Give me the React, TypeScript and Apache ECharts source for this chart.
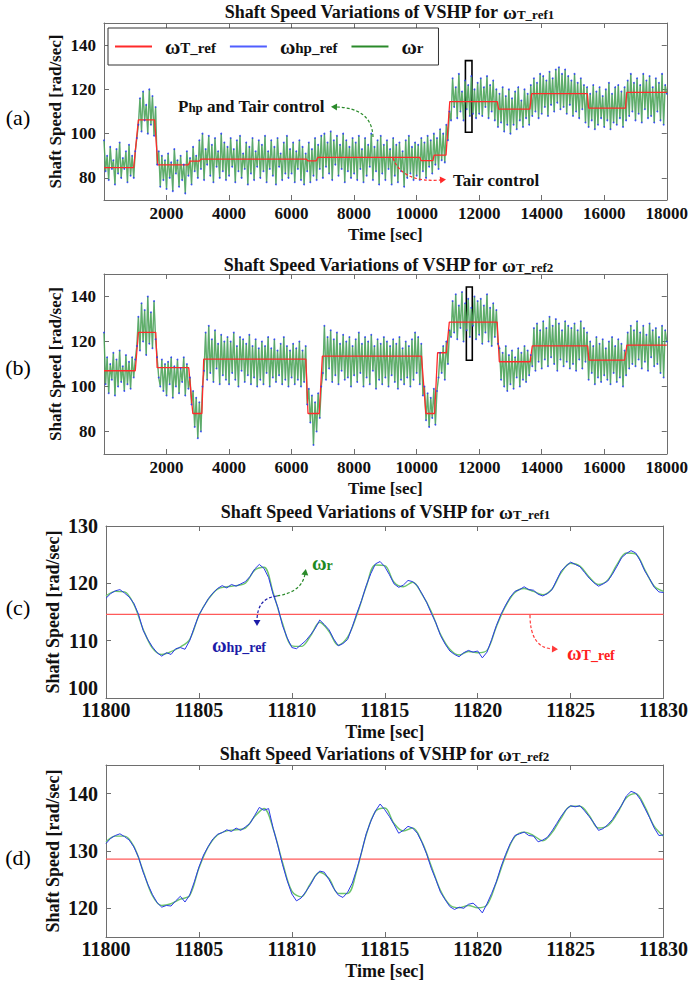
import React, { useEffect, useRef } from "react";
import * as echarts from "echarts";

// ---------------- data ----------------
const LONG_T0 = 0;
const LONG_DT = 50;
const SPEED_A = [
  97, 83, 90, 79, 94, 84, 88, 77, 93, 82, 96, 80, 89, 84, 92, 78, 95, 81, 90, 80,
  92, 98, 104, 116, 101, 119, 106, 113, 100, 120, 104, 117, 99, 112, 86, 92, 76, 90, 79, 88,
  75, 91, 80, 87, 74, 93, 82, 88, 76, 90, 79, 86, 73, 92, 81, 89, 77, 94, 83, 90,
  80, 97, 84, 100, 79, 93, 86, 99, 81, 95, 78, 98, 85, 92, 80, 100, 83, 96, 79, 94,
  81, 98, 85, 93, 78, 97, 83, 99, 80, 91, 84, 96, 77, 94, 82, 98, 79, 92, 85, 97,
  80, 95, 83, 99, 78, 92, 84, 97, 81, 94, 77, 98, 85, 91, 79, 96, 82, 99, 80, 93,
  82, 96, 78, 92, 84, 97, 79, 94, 77, 91, 83, 96, 78, 93, 81, 98, 79, 95, 84, 99,
  80, 100, 85, 96, 82, 101, 79, 97, 86, 99, 81, 95, 84, 100, 78, 97, 83, 94, 80, 98,
  82, 96, 79, 99, 84, 93, 78, 98, 81, 95, 85, 100, 79, 94, 83, 97, 77, 99, 82, 95,
  79, 97, 84, 93, 77, 98, 81, 95, 78, 96, 83, 92, 76, 97, 80, 99, 82, 94, 79, 96,
  81, 95, 79, 98, 83, 96, 80, 99, 85, 97, 82, 100, 86, 98, 84, 102, 88, 100, 87, 104,
  97, 110, 106, 125, 112, 121, 107, 127, 110, 119, 106, 124, 111, 122, 108, 126, 109, 120, 107, 123,
  109, 125, 108, 121, 112, 126, 107, 122, 110, 124, 106, 120, 103, 118, 105, 121, 101, 117, 104, 120,
  100, 116, 104, 119, 102, 121, 106, 115, 103, 120, 107, 118, 104, 122, 108, 125, 110, 123, 107, 127,
  109, 126, 112, 124, 108, 128, 113, 125, 110, 129, 114, 130, 111, 127, 112, 129, 109, 126, 113, 124,
  108, 127, 110, 123, 107, 125, 111, 122, 105, 121, 103, 118, 106, 122, 102, 119, 104, 121, 107, 117,
  103, 120, 106, 123, 102, 118, 105, 121, 104, 122, 107, 119, 103, 121, 106, 124, 108, 127, 110, 123,
  106, 125, 109, 122, 105, 127, 111, 124, 107, 126, 108, 121, 105, 125, 110, 123, 106, 127, 104, 122,
  118,
];
const SPEED_B = [
  124, 101, 113, 97, 110, 103, 115, 96, 112, 100, 116, 102, 109, 98, 114, 101, 111, 99, 113, 104,
  112, 118, 131, 116, 137, 120, 134, 114, 140, 119, 133, 117, 138, 121, 113, 104, 100, 112, 98, 110,
  96, 111, 101, 113, 95, 109, 100, 112, 97, 108, 102, 113, 96, 110, 99, 104, 92, 98, 82, 95,
  77, 93, 80, 100, 107, 124, 103, 127, 106, 121, 102, 125, 108, 119, 101, 123, 105, 120, 103, 122,
  101, 120, 106, 124, 103, 118, 100, 122, 107, 121, 102, 119, 105, 123, 101, 118, 104, 121, 100, 117,
  103, 120, 101, 118, 106, 122, 100, 117, 104, 121, 102, 116, 105, 119, 101, 122, 103, 118, 100, 116,
  104, 119, 101, 117, 103, 120, 100, 116, 102, 118, 92, 99, 84, 96, 74, 93, 80, 97, 86, 100,
  106, 127, 103, 122, 108, 125, 102, 121, 105, 124, 101, 119, 107, 123, 103, 120, 104, 122, 100, 118,
  105, 121, 102, 124, 106, 119, 100, 122, 104, 120, 101, 123, 107, 118, 99, 121, 103, 119, 101, 122,
  104, 120, 100, 118, 105, 121, 102, 119, 99, 122, 103, 117, 101, 120, 104, 118, 100, 121, 103, 124,
  106, 122, 101, 119, 96, 100, 85, 97, 82, 95, 86, 99, 83, 98, 104, 115, 106, 118, 103, 120,
  110, 125, 122, 138, 124, 141, 121, 136, 126, 142, 120, 137, 125, 139, 122, 135, 127, 140, 121, 138,
  123, 139, 119, 136, 124, 141, 120, 135, 118, 137, 122, 134, 119, 117, 103, 115, 100, 118, 98, 114,
  101, 116, 99, 113, 104, 117, 100, 115, 103, 118, 102, 116, 105, 114, 109, 126, 107, 128, 111, 125,
  108, 129, 112, 126, 109, 131, 113, 127, 110, 130, 107, 128, 112, 125, 109, 129, 111, 127, 108, 126,
  110, 128, 107, 125, 112, 129, 108, 126, 111, 124, 103, 120, 106, 118, 101, 122, 104, 119, 102, 121,
  105, 117, 103, 120, 101, 122, 106, 118, 102, 121, 104, 119, 100, 116, 105, 124, 108, 127, 110, 125,
  109, 129, 112, 124, 108, 127, 111, 123, 107, 128, 113, 125, 109, 126, 110, 122, 106, 127, 104, 125,
  120,
];

// Reference steps ωT_ref (segment start, end, level)
const REF_A_START = [0, 1100, 1720, 2760, 3100, 6520, 6840, 10140, 10560, 11060, 12620, 13680, 15500, 16720];
const REF_A_END = [950, 1620, 2700, 3050, 6470, 6790, 10100, 10520, 10940, 12580, 13620, 15460, 16680, 18000];
const REF_A_LEVEL = [84.6, 106.2, 85.9, 87.6, 88.5, 87.7, 89.3, 87.8, 90.3, 114.5, 111.1, 118.1, 111.5, 118.6];

const REF_B_START = [0, 1100, 1700, 2840, 3190, 6525, 6985, 10295, 10670, 11045, 12645, 13700, 15510, 16725];
const REF_B_END = [1000, 1655, 2710, 3130, 6455, 6885, 10155, 10575, 10950, 12575, 13630, 15470, 16655, 18000];
const REF_B_LEVEL = [107.0, 124.1, 108.4, 88.0, 112.2, 88.0, 113.5, 88.0, 115.0, 128.6, 111.0, 118.1, 111.7, 118.4];

// Zoom boxes [t0, t1, low, high]
const BOX_A = [11560, 11770, 100.6, 133.0];
const BOX_B = [11590, 11780, 111.7, 144.2];

// Panels (c),(d): 11800 … 11830 s
const ZOOM_T0 = 11800;
const WR_DT = 0.5;
const WHP_DT = 0.25;
const WR_C = [
  117.8, 118.6, 118.5, 116.3, 112.0, 108.7, 107.6, 108.1, 108.9, 110.2,
  114.4, 117.2, 119.0, 119.4, 119.6, 120.0, 122.3, 122.8, 118.3, 113.0,
  109.1, 109.0, 110.8, 113.2, 111.6, 109.2, 110.6, 114.5, 119.4, 123.2,
  123.1, 120.2, 119.4, 120.2, 118.1, 115.1, 111.1, 108.5, 107.5, 108.1,
  107.9, 108.3, 112.4, 116.0, 118.4, 119.1, 118.6, 118.0, 119.0, 121.9,
  123.5, 123.0, 121.1, 119.8, 120.6, 123.3, 125.3, 125.1, 122.3, 119.5,
  118.6,
];
const WHP_C = [
  117.4, 118.2, 118.7, 118.9, 118.3, 117.6, 116.5, 114.6, 111.8, 110.2,
  108.9, 107.9, 107.3, 107.9, 107.6, 108.6, 108.8, 108.5, 110.0, 112.3,
  114.5, 115.9, 117.3, 118.3, 119.1, 119.6, 119.2, 119.8, 119.5, 119.9,
  120.3, 121.2, 122.5, 123.3, 122.6, 121.0, 118.0, 115.8, 112.6, 110.5,
  108.8, 108.6, 109.3, 110.0, 111.0, 112.1, 113.6, 112.8, 111.9, 110.3,
  109.1, 109.5, 110.2, 112.4, 114.8, 117.0, 119.6, 121.7, 123.4, 123.8,
  122.9, 121.5, 119.9, 119.3, 119.7, 120.5, 120.3, 119.6, 118.2, 116.7,
  114.8, 113.1, 110.9, 109.4, 108.2, 107.6, 107.2, 107.9, 108.3, 108.0,
  108.2, 107.0, 108.0, 110.2, 112.6, 114.6, 116.2, 117.6, 118.6, 118.9,
  119.4, 118.9, 118.8, 118.1, 117.8, 118.2, 118.9, 120.6, 122.2, 123.0,
  123.7, 123.3, 122.9, 121.9, 120.9, 120.1, 119.5, 119.9, 120.4, 121.6,
  123.0, 124.5, 125.2, 125.7, 125.3, 123.9, 122.1, 120.8, 119.3, 118.5,
  118.4,
];
const WT_REF_C = 114.6;

const WR_D = [
  131.6, 132.6, 132.6, 130.8, 126.5, 122.2, 120.5, 120.8, 121.6, 122.2,
  127.0, 130.7, 132.8, 133.5, 133.7, 134.0, 136.0, 137.4, 133.8, 128.0,
  123.0, 122.0, 124.3, 126.3, 125.2, 122.6, 122.6, 126.7, 132.8, 136.9,
  137.5, 134.8, 133.5, 134.0, 131.6, 127.4, 123.1, 120.6, 120.1, 120.5,
  120.1, 120.6, 124.5, 129.1, 132.5, 133.3, 132.7, 131.8, 133.2, 135.8,
  137.8, 137.8, 136.2, 134.0, 134.4, 136.5, 139.3, 140.0, 137.7, 134.3,
  132.6,
];
const WHP_D = [
  131.3, 132.2, 132.7, 133.0, 132.5, 131.9, 130.7, 128.9, 126.3, 124.2,
  122.4, 121.0, 120.2, 120.5, 120.4, 121.3, 122.1, 121.1, 122.3, 124.6,
  127.2, 129.3, 130.8, 132.1, 132.9, 133.2, 133.7, 133.4, 134.0, 133.6,
  134.2, 134.8, 136.2, 137.6, 137.1, 137.4, 133.9, 130.9, 127.6, 124.8,
  122.5, 121.3, 121.8, 122.9, 124.1, 125.6, 126.5, 126.3, 125.0, 123.5,
  122.3, 121.9, 122.8, 124.4, 126.9, 129.8, 133.0, 135.2, 137.0, 138.2,
  137.2, 136.0, 134.6, 133.1, 133.6, 134.3, 134.0, 133.1, 131.5, 129.5,
  127.0, 125.0, 122.8, 121.5, 120.3, 119.8, 120.2, 120.0, 120.7, 120.9,
  120.2, 119.2, 120.8, 122.6, 124.6, 127.2, 129.4, 131.3, 132.7, 133.0,
  133.3, 132.7, 132.6, 131.6, 131.9, 132.4, 133.5, 134.8, 136.1, 137.2,
  137.9, 137.7, 137.9, 137.0, 136.0, 134.9, 133.6, 133.9, 134.6, 135.5,
  136.8, 138.0, 139.6, 140.4, 140.1, 139.0, 137.4, 135.8, 134.0, 132.7,
  132.8,
];
const WT_REF_D = 128.6;

// Axis ticks
const LONG_X_TICKS = [2000, 4000, 6000, 8000, 10000, 12000, 14000, 16000, 18000];
const LONG_Y_TICKS = [80, 100, 120, 140];
const ZOOM_X_TICKS = [11800, 11805, 11810, 11815, 11820, 11825, 11830];
const C_Y_TICKS = [100, 110, 120, 130];
const D_Y_TICKS = [120, 130, 140];

// ---------------- helpers ----------------
const FONT = "'Liberation Serif', 'Times New Roman', serif";
const AXIS_COLOR = "#6e6e6e";

const toPairs = (vals: number[], t0: number, dt: number) => vals.map((v, i) => [t0 + i * dt, v]);
const stepPairs = (s: number[], e: number[], l: number[]) =>
  s.flatMap((st, i) => [[st, l[i]], [e[i], l[i]]]);
const plain = (v: number) => String(v);

const LEGEND_PARTS: Record<string, [string, string]> = {
  "ωT_ref": ["ω", "T_ref"],
  "ωhp_ref": ["ω", "hp_ref"],
  "ωr": ["ω", "r"],
};

function makeAxes(
  gi: number,
  xr: [number, number],
  xt: number[],
  yr: [number, number],
  yt: number[],
  fs: number,
  xNameGap: number,
  yNameGap: number,
  nameSize: number,
  xMargin: number,
  liftMin: boolean
) {
  const lineStyle = { color: AXIS_COLOR, width: 1 };
  const labelStyle = { fontFamily: FONT, fontWeight: "bold", fontSize: fs, color: "#111" };
  const nameStyle = { fontFamily: FONT, fontWeight: "bold", fontSize: nameSize, color: "#111" };
  const yFormatter = liftMin
    ? (v: number) => (v === yr[0] ? `{lo|${v}}` : String(v))
    : plain;
  const xBottom = {
    type: "value", gridIndex: gi, min: xr[0], max: xr[1], position: "bottom",
    axisLine: { show: true, onZero: false, lineStyle },
    axisTick: { show: true, inside: true, length: 5, customValues: xt, lineStyle },
    axisLabel: { show: true, customValues: xt, margin: xMargin, formatter: plain, ...labelStyle },
    splitLine: { show: false },
    name: "Time [sec]", nameLocation: "middle", nameGap: xNameGap, nameTextStyle: nameStyle,
    nameMoveOverlap: false,
  };
  const xTop = {
    type: "value", gridIndex: gi, min: xr[0], max: xr[1], position: "top",
    axisLine: { show: true, onZero: false, lineStyle },
    axisTick: { show: true, inside: true, length: 5, customValues: xt, lineStyle },
    axisLabel: { show: false },
    splitLine: { show: false },
  };
  const yLeft = {
    type: "value", gridIndex: gi, min: yr[0], max: yr[1], position: "left",
    axisLine: { show: true, onZero: false, lineStyle },
    axisTick: { show: true, inside: true, length: 5, customValues: yt, lineStyle },
    axisLabel: {
      show: true, customValues: yt, margin: 8, formatter: yFormatter, ...labelStyle,
      rich: { lo: { ...labelStyle, padding: [0, 0, 20, 0] } },
    },
    splitLine: { show: false },
    name: "Shaft Speed [rad/sec]", nameLocation: "middle", nameRotate: 90, nameGap: yNameGap,
    nameTextStyle: nameStyle, nameMoveOverlap: false,
  };
  const yRight = {
    type: "value", gridIndex: gi, min: yr[0], max: yr[1], position: "right",
    axisLine: { show: true, onZero: false, lineStyle },
    axisTick: { show: true, inside: true, length: 5, customValues: yt, lineStyle },
    axisLabel: { show: false },
    splitLine: { show: false },
  };
  return { xBottom, xTop, yLeft, yRight };
}

function arrow(x1: number, y1: number, cx: number, cy: number, x2: number, y2: number, color: string) {
  const dx = x2 - cx;
  const dy = y2 - cy;
  const L = Math.hypot(dx, dy) || 1;
  const ux = dx / L;
  const uy = dy / L;
  const px = -uy;
  const py = ux;
  return [
    {
      type: "bezierCurve", z: 20, silent: true,
      shape: { x1, y1, x2, y2, cpx1: cx, cpy1: cy },
      style: { stroke: color, lineWidth: 1.2, lineDash: [3, 2], fill: null },
    },
    {
      type: "polygon", z: 20, silent: true,
      shape: {
        points: [
          [x2 + ux * 5, y2 + uy * 5],
          [x2 - ux * 1 + px * 3.5, y2 - uy * 1 + py * 3.5],
          [x2 - ux * 1 - px * 3.5, y2 - uy * 1 - py * 3.5],
        ],
      },
      style: { fill: color },
    },
  ];
}

function richText(x: number, y: number, text: string, rich: any, align: string, color: string, size = 17) {
  return {
    type: "text", x, y, z: 20, silent: true,
    style: {
      text, rich,
      font: `bold ${size}px ${FONT}`,
      fill: color,
      align, verticalAlign: "middle",
      textAlign: align, textVerticalAlign: "middle",
    },
  };
}

const wRich = (color: string, big: number, small: number) => ({
  w: { fontSize: big, fontWeight: "bold", fontFamily: FONT, fill: color, color },
  s: { fontSize: small, fontWeight: "bold", fontFamily: FONT, fill: color, color, padding: [4, 0, 0, 0] },
});

function titleEl(x: number, y: number, sub: string) {
  return richText(
    x, y,
    `Shaft Speed Variations of VSHP for {w|ω}{s|${sub}}`,
    wRich("#111", 19, 13),
    "center", "#111", 18
  );
}

function panelLetter(x: number, y: number, t: string) {
  return {
    type: "text", x, y, z: 20, silent: true,
    style: {
      text: t, font: `22px ${FONT}`, fill: "#000",
      align: "center", verticalAlign: "middle", textAlign: "center", textVerticalAlign: "middle",
    },
  };
}

function buildOption() {
  const grids = [
    { left: 104, right: 18, top: 23, height: 177 },
    { left: 104, right: 18, top: 274, height: 180 },
    { left: 106, right: 21, top: 526, height: 172 },
    { left: 106, right: 21, top: 765, height: 172 },
  ];
  const ax = [
    makeAxes(0, [0, 18000], LONG_X_TICKS, [70, 150], LONG_Y_TICKS, 17, 26, 40, 17, 5, false),
    makeAxes(1, [0, 18000], LONG_X_TICKS, [70, 150], LONG_Y_TICKS, 17, 26, 40, 17, 5, false),
    makeAxes(2, [11800, 11830], ZOOM_X_TICKS, [100, 130], C_Y_TICKS, 20, 25, 44, 18, 2, true),
    makeAxes(3, [11800, 11830], ZOOM_X_TICKS, [115, 145], D_Y_TICKS, 20, 25, 44, 18, 2, false),
  ];
  const xAxis = [...ax.map((a) => a.xBottom), ...ax.map((a) => a.xTop)];
  const yAxis = [...ax.map((a) => a.yLeft), ...ax.map((a) => a.yRight)];

  const RED = "#ff2a2a";
  const BLUE = "#2436ff";
  const GREEN = "#2a8a2a";

  const longSeries = (gi: number, speed: number[], refS: number[], refE: number[], refL: number[], box: number[]) => {
    const pts = toPairs(speed, LONG_T0, LONG_DT);
    return [
      {
        name: "ωhp_ref", type: "line", xAxisIndex: gi, yAxisIndex: gi, data: pts, silent: true,
        showSymbol: true, symbol: "circle", symbolSize: 1.8,
        lineStyle: { color: "#7a88ff", width: 0.8, opacity: 0.6 }, itemStyle: { color: BLUE, opacity: 0.8 },
      },
      {
        name: "ωr", type: "line", xAxisIndex: gi, yAxisIndex: gi, data: pts, silent: true,
        showSymbol: false,
        lineStyle: { color: "#45a545", width: 1.4, opacity: 0.8 }, itemStyle: { color: GREEN },
      },
      {
        name: "ωT_ref", type: "line", xAxisIndex: gi, yAxisIndex: gi, data: stepPairs(refS, refE, refL),
        silent: true, showSymbol: false,
        lineStyle: { color: RED, width: 1.3 }, itemStyle: { color: RED },
        markArea: {
          silent: true,
          itemStyle: { color: "rgba(0,0,0,0)", borderColor: "#000", borderWidth: 1.6 },
          data: [[{ xAxis: box[0], yAxis: box[2] }, { xAxis: box[1], yAxis: box[3] }]],
        },
      },
    ];
  };

  const zoomSeries = (gi: number, wr: number[], whp: number[], ref: number) => [
    {
      name: "ωT_ref", type: "line", xAxisIndex: gi, yAxisIndex: gi, silent: true, showSymbol: false,
      data: [[ZOOM_T0, ref], [ZOOM_T0 + 30, ref]],
      lineStyle: { color: "#ff5a5a", width: 1.3 }, itemStyle: { color: RED },
    },
    {
      name: "ωr", type: "line", xAxisIndex: gi, yAxisIndex: gi, silent: true, showSymbol: false, smooth: 0.35,
      data: toPairs(wr, ZOOM_T0, WR_DT),
      lineStyle: { color: "#6cc46c", width: 1.4 }, itemStyle: { color: GREEN },
    },
    {
      name: "ωhp_ref", type: "line", xAxisIndex: gi, yAxisIndex: gi, silent: true, showSymbol: false,
      data: toPairs(whp, ZOOM_T0, WHP_DT),
      lineStyle: { color: "#2a3ae8", width: 1 }, itemStyle: { color: BLUE },
    },
  ];

  const series = [
    ...longSeries(0, SPEED_A, REF_A_START, REF_A_END, REF_A_LEVEL, BOX_A),
    ...longSeries(1, SPEED_B, REF_B_START, REF_B_END, REF_B_LEVEL, BOX_B),
    ...zoomSeries(2, WR_C, WHP_C, WT_REF_C),
    ...zoomSeries(3, WR_D, WHP_D, WT_REF_D),
  ];

  const graphic = [
    titleEl(389, 12, "T_ref1"),
    titleEl(388, 265, "T_ref2"),
    titleEl(385, 512, "T_ref1"),
    titleEl(384, 754, "T_ref2"),
    panelLetter(18, 117, "(a)"),
    panelLetter(18, 367, "(b)"),
    panelLetter(18, 607, "(c)"),
    panelLetter(18, 857, "(d)"),
    richText(178, 106, "{b|P}{h|hp}{b| and Tair control}", {
      b: { fontSize: 17, fontWeight: "bold", fontFamily: FONT, fill: "#111", color: "#111" },
      h: { fontSize: 13, fontWeight: "bold", fontFamily: FONT, fill: "#111", color: "#111", padding: [3, 0, 0, 0] },
    }, "left", "#111"),
    ...arrow(373, 137, 372, 108, 336, 107, "#2a8a2a"),
    richText(453, 180, "Tair control", {}, "left", "#111"),
    ...arrow(393, 158, 402, 183, 441, 180, "#ff2a2a"),
    richText(312, 563, "{w|ω}{s|r}", wRich("#1f8a1f", 20, 14), "left", "#1f8a1f"),
    ...arrow(277, 596, 302, 592, 305, 574, "#2a8a2a"),
    richText(212, 645, "{w|ω}{s|hp_ref}", wRich("#1c1ca8", 20, 14), "left", "#1c1ca8"),
    ...arrow(277, 596, 257, 598, 257, 621, "#1c1ca8"),
    richText(567, 653, "{w|ω}{s|T_ref}", wRich("#ff2020", 20, 14), "left", "#ff2020"),
    ...arrow(530, 615, 530, 648, 553, 649, "#ff3a3a"),
  ];

  return {
    animation: false,
    backgroundColor: "#fff",
    grid: grids,
    xAxis,
    yAxis,
    series,
    graphic,
    legend: {
      data: ["ωT_ref", "ωhp_ref", "ωr"],
      left: 108, top: 28,
      orient: "horizontal",
      icon: "rect", itemWidth: 37, itemHeight: 2, itemGap: 14,
      padding: [8, 15, 8, 7],
      borderColor: "#333", borderWidth: 1, backgroundColor: "#fff",
      selectedMode: false,
      formatter: (name: string) => {
        const p = LEGEND_PARTS[name] || [name, ""];
        return `{w|${p[0]}}{s|${p[1]}}`;
      },
      textStyle: {
        rich: {
          w: { fontSize: 21, fontWeight: "bold", fontFamily: FONT, color: "#111", padding: [0, 0, 0, 8] },
          s: { fontSize: 15, fontWeight: "bold", fontFamily: FONT, color: "#111", padding: [3, 0, 0, 0] },
        },
      },
    },
  };
}

export default function App() {
  const ref = useRef<HTMLDivElement>(null);
  useEffect(() => {
    document.body.style.margin = "0";
    if (!ref.current) return;
    const chart = echarts.init(ref.current, undefined, { renderer: "svg" });
    chart.setOption(buildOption() as any);
    return () => chart.dispose();
  }, []);
  return <div ref={ref} style={{ width: 691, height: 982, background: "#fff" }} />;
}
